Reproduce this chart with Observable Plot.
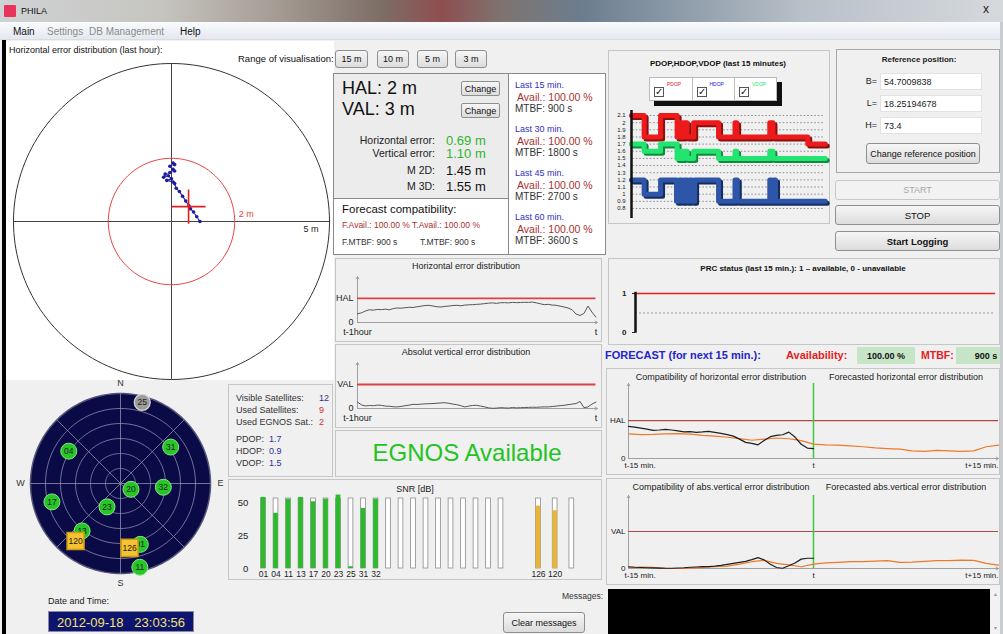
<!DOCTYPE html>
<html>
<head>
<meta charset="utf-8">
<script src="https://cdn.jsdelivr.net/npm/d3@7"></script>
<script src="https://cdn.jsdelivr.net/npm/@observablehq/plot@0.6"></script>
<style>
html,body{margin:0;padding:0;}
body{background:#f0f0f0;font-family:"Liberation Sans",Arial,sans-serif;color:#222;}
#app{position:relative;width:1003px;height:634px;overflow:hidden;background:#f0f0f0;}
.a{position:absolute;white-space:nowrap;line-height:1;}
.box{position:absolute;box-sizing:border-box;}
.btn{position:absolute;box-sizing:border-box;border:1px solid #8e8f8f;border-radius:3px;background:linear-gradient(#f6f6f6,#dcdcdc);display:flex;align-items:center;justify-content:center;font-size:9px;color:#111;white-space:nowrap;}
</style>
</head>
<body>
<div id="app"></div>
<script>
// ================= DATA =================
// Horizontal error distribution (last hour) – polar view, metres
const polarRange = 5;   // outer circle (range of visualisation)
const halRadius = 2;    // HAL circle
const traceEast  = [0.05, 0.10, -0.05, 0.05, 0.10, -0.05, -0.20, -0.25, -0.10, 0.00, -0.15, 0.05, 0.10, 0.15, 0.25, 0.35, 0.45, 0.55, 0.60, 0.70, 0.80, 0.90];
const traceNorth = [1.85, 1.80, 1.75, 1.65, 1.60, 1.55, 1.50, 1.40, 1.45, 1.35, 1.30, 1.25, 1.20, 1.05, 0.95, 0.80, 0.65, 0.50, 0.40, 0.30, 0.15, 0.00];
const currentPos = {east: 0.54, north: 0.47};

// Protection levels
const HAL = 2, VAL = 3;

// Error distributions, last hour (one value per minute, t-60 … t)
const heLastHour = [0.72,0.80,0.95,1.05,1.02,1.08,1.06,1.10,1.05,1.15,1.20,1.18,1.22,1.26,1.24,1.30,1.35,1.40,1.42,1.36,1.30,1.28,1.33,1.36,1.40,1.42,1.38,1.44,1.46,1.47,1.50,1.52,1.56,1.60,1.62,1.58,1.63,1.64,1.62,1.66,1.64,1.65,1.67,1.66,1.69,1.62,1.55,1.47,1.50,1.44,1.42,1.35,1.28,1.20,1.05,0.70,0.58,0.75,1.36,0.86,0.44];
const veLastHour = [0.80,0.45,0.32,0.38,0.35,0.42,0.40,0.30,0.28,0.22,0.20,0.26,0.35,0.42,0.52,0.50,0.55,0.58,0.60,0.62,0.66,0.70,0.72,0.65,0.55,0.48,0.35,0.20,0.30,0.38,0.40,0.30,0.20,0.08,0.02,0.05,0.10,0.08,0.05,0.12,0.08,0.10,0.12,0.14,0.16,0.15,0.18,0.20,0.20,0.25,0.30,0.36,0.40,0.48,0.55,0.62,0.88,0.10,0.20,0.55,0.80];

// Satellites (GPS)
const gpsPrn  = ["01","04","11","13","17","20","23","25","31","32"];
const gpsSnr  = [53.8, 41.7, 52.5, 53.8, 50.5, 52.5, 55.6, 1.3, 45.5, 52.5];
const gpsUsed = [1, 1, 1, 1, 1, 1, 1, 0, 1, 1];
const gpsAz   = [162, 302, 167, 219, 255, 119, 210, 15, 54, 95];
const gpsEl   = [26, 29, 4, 29, 19, 78, 63, 6, 28, 47];
// Satellites (EGNOS)
const egnosPrn = ["126","120"];
const egnosSnr = [47.2, 43.7];
const egnosAz  = [172, 218];
const egnosEl  = [25, 17];
const emptyGpsChannels = 10, emptyEgnosChannels = 1;
const snrChannelMax = 53;
const snrTicks = [0, 25, 50];

// Sky plot grid
const skyRingsEl = [15, 30, 45, 60, 75];
const skySpokesAz = [0, 45, 90, 135, 180, 225, 270, 315];
const compass = ["N", "E", "S", "W"];
const compassAz = [0, 90, 180, 270];

// PDOP / HDOP / VDOP (last 15 minutes) – step series
const dopTicks = [0.8,0.9,1,1.1,1.2,1.3,1.4,1.5,1.6,1.7,1.8,1.9,2,2.1];
const pdopTime  = [0,0.99,2.28,3.58,3.8,3.97,4.1,4.36,4.88,6.83,8.12,8.25,10.85,11.1,13.83,15.2];
const pdopValue = [2.1,1.8,2.1,1.8,2.0,1.8,2.0,1.8,2.0,1.8,2.0,1.8,2.0,1.8,1.7,1.7];
const vdopTime  = [0,0.99,2.28,3.58,3.8,3.97,4.1,4.36,4.88,6.83,8.12,8.25,10.85,11.1,15.2];
const vdopValue = [1.7,1.6,1.7,1.5,1.6,1.5,1.6,1.5,1.6,1.5,1.6,1.5,1.6,1.5,1.5];
const hdopTime  = [0,0.99,2.28,3.53,3.75,3.95,4.15,4.35,4.55,4.75,4.95,5.14,6.83,8.12,8.3,10.85,11.0,11.15,11.3,11.45,15.2];
const hdopValue = [1.2,1.0,1.2,0.9,1.2,0.9,1.2,0.9,1.2,0.9,1.2,1.2,0.9,1.2,0.9,1.2,0.9,1.2,0.9,0.9,0.9];

// PRC status (last 15 minutes)
const prcStatus = [1,1,1,1,1,1,1,1,1,1,1,1,1,1,1,1];

// Compatibility / forecast (t-15 … t every 0.5 min; forecast t-15 … t+15 every 1 min)
const chActual   = [1.69,1.65,1.60,1.55,1.48,1.50,1.53,1.50,1.45,1.40,1.42,1.38,1.40,1.43,1.38,1.32,1.26,1.18,1.02,0.85,0.80,0.72,0.95,1.15,1.22,1.25,1.39,1.13,0.75,0.55,0.52];
const chForecast = [1.30,1.26,1.27,1.30,1.31,1.28,1.22,1.18,1.12,1.05,0.96,1.02,1.08,1.04,0.94,0.76,0.72,0.70,0.66,0.62,0.56,0.52,0.49,0.40,0.38,0.43,0.40,0.38,0.40,0.62,0.70];
const cvActual   = [0.14,0.10,0.08,0.06,0.05,0.03,0.02,0.02,0.04,0.06,0.10,0.12,0.15,0.16,0.19,0.25,0.33,0.42,0.50,0.58,0.72,0.88,0.70,0.35,0.08,0.02,0.22,0.45,0.76,0.83,0.83];
const cvForecast = [0.08,0.12,0.10,0.02,0.00,0.03,0.08,0.14,0.20,0.35,0.55,0.66,0.42,0.30,0.14,0.36,0.45,0.50,0.56,0.56,0.60,0.64,0.50,0.52,0.58,0.64,0.64,0.68,0.66,0.42,0.28];

// ================= HELPERS =================
const app = document.getElementById("app");
function box(x, y, w, h, css) { const d = document.createElement("div"); d.className = "box"; d.style.cssText = `left:${x}px;top:${y}px;width:${w}px;height:${h}px;` + (css || ""); app.appendChild(d); return d; }
function txt(x, y, s, css, anchor) { const d = document.createElement("div"); d.className = "a"; d.textContent = s; const tx = anchor === "middle" ? "-50%" : anchor === "end" ? "-100%" : "0"; d.style.cssText = `left:${x}px;top:${y}px;transform:translate(${tx},-50%);` + (css || ""); app.appendChild(d); return d; }
function btn(x, y, w, h, s, css) { const d = document.createElement("div"); d.className = "btn"; d.textContent = s; d.style.cssText = `left:${x}px;top:${y}px;width:${w}px;height:${h}px;` + (css || ""); app.appendChild(d); return d; }
function mount(svg, x, y) { svg.style.position = "absolute"; svg.style.left = x + "px"; svg.style.top = y + "px"; svg.style.maxWidth = "none"; app.appendChild(svg); }
const baseStyle = {background: "transparent", overflow: "visible", fontFamily: "Liberation Sans, Arial, sans-serif"};
const deg = Math.PI / 180;
const ringPts = r => d3.range(0, 361, 2).map(a => ({x: r * Math.cos(a * deg), y: r * Math.sin(a * deg)}));

// ================= WINDOW CHROME =================
box(0, 0, 1003, 22, "background:linear-gradient(90deg,#cfd2d4 0%,#c6c5c0 16%,#a39a92 28%,#7d6e66 38%,#8e4e50 44%,#7e7470 50%,#6c7d8e 58%,#8796a4 66%,#b8c0c8 80%,#d6d9dc 100%)");
box(4, 5, 12, 12, "background:#e8335c;border-radius:1px");
txt(21, 11, "PHILA", "font-size:9px;color:#111");
txt(986, 9, "x", "font-size:12px;color:#222", "middle");
box(0, 22, 1003, 18, "background:linear-gradient(#fafbfd,#e4e8ef);border-bottom:1px solid #d8dce4");
txt(13, 32, "Main", "font-size:10px;color:#111");
txt(47, 32, "Settings", "font-size:10px;color:#8a8a8a");
txt(89, 32, "DB Management", "font-size:10px;color:#8a8a8a");
txt(180, 32, "Help", "font-size:10px;color:#111");
box(2, 40, 4, 594, "background:#000");
box(1000, 22, 3, 612, "background:#c9cdd2");

// ================= POLAR (horizontal error) =================
box(6, 41, 328, 339, "background:#fff");
txt(9, 50, "Horizontal error distribution (last hour):", "font-size:9px;color:#111");
const trace = traceEast.map((e, i) => ({e, n: traceNorth[i]}));
const polar = Plot.plot({
  width: 330, height: 330, margin: 7,
  x: {domain: [-polarRange, polarRange], axis: null},
  y: {domain: [-polarRange, polarRange], axis: null},
  style: baseStyle,
  marks: [
    Plot.line(ringPts(polarRange), {x: "x", y: "y", stroke: "#333", strokeWidth: 1}),
    Plot.ruleY([0], {x1: -polarRange, x2: polarRange, stroke: "#444"}),
    Plot.ruleX([0], {y1: -polarRange, y2: polarRange, stroke: "#444"}),
    Plot.line(ringPts(halRadius), {x: "x", y: "y", stroke: "#e84040", strokeWidth: 1}),
    Plot.text([halRadius], {x: d => d, y: () => 0, text: d => `${d} m`, dx: 4, dy: -7, textAnchor: "start", fill: "#e84040", fontSize: 9}),
    Plot.text([polarRange], {x: d => d, y: () => 0, text: d => `${d} m`, dx: -11, dy: 8, textAnchor: "end", fill: "#222", fontSize: 9}),
    Plot.line(trace, {x: "e", y: "n", stroke: "#2a2ab4", strokeWidth: 1.2, strokeDasharray: "4,1.5"}),
    Plot.dot(trace, {x: "e", y: "n", r: 1.8, fill: "#1c1c9c"}),
    Plot.dot([currentPos], {x: "east", y: "north", symbol: "plus", r: 11, stroke: "#e02020", strokeWidth: 1.6})
  ]
});
mount(polar, 6, 56);

// ================= RANGE BUTTONS =================
txt(238, 59, "Range of visualisation:", "font-size:9.5px;color:#111");
btn(335, 50, 33, 18, "15 m"); btn(377, 50, 32, 18, "10 m"); btn(417, 50, 31, 18, "5 m"); btn(455, 50, 32, 18, "3 m");

// ================= INFO BOX =================
box(333, 73, 176, 126, "background:#ececec;border:1px solid #8a8a8a");
box(333, 198, 176, 57, "background:#fff;border:1px solid #8a8a8a");
box(508, 73, 98, 182, "background:#fff;border:1px solid #8a8a8a");
txt(342, 88, "HAL:  " + HAL + " m", "font-size:18px;color:#111");
txt(342, 109, "VAL:  " + VAL + " m", "font-size:18px;color:#111");
btn(461, 81, 39, 15, "Change", "border-radius:2px"); btn(461, 103, 39, 15, "Change", "border-radius:2px");
txt(435, 140, "Horizontal error:", "font-size:10.5px;color:#222", "end");
txt(446, 140, "0.69 m", "font-size:13px;color:#2fb52f");
txt(435, 153, "Vertical error:", "font-size:10.5px;color:#222", "end");
txt(446, 153, "1.10 m", "font-size:13px;color:#2fb52f");
txt(435, 170, "M 2D:", "font-size:10.5px;color:#222", "end");
txt(446, 170, "1.45 m", "font-size:13px;color:#111");
txt(435, 186, "M 3D:", "font-size:10.5px;color:#222", "end");
txt(446, 186, "1.55 m", "font-size:13px;color:#111");
txt(342, 210, "Forecast compatibility:", "font-size:11.5px;color:#111");
txt(342, 225, "F.Avail.: 100.00 % T.Avail.: 100.00 %", "font-size:8.5px;color:#a83030");
txt(342, 242, "F.MTBF: 900 s", "font-size:8.5px;color:#333");
txt(420, 242, "T.MTBF: 900 s", "font-size:8.5px;color:#333");
[["Last 15 min.", "900"], ["Last 30 min.", "1800"], ["Last 45 min.", "2700"], ["Last 60 min.", "3600"]].forEach(([l, m], i) => {
  const y0 = 85 + i * 44;
  txt(515, y0, l, "font-size:9px;color:#3030c0");
  txt(517, y0 + 12, "Avail.: 100.00 %", "font-size:10.5px;color:#a83030");
  txt(515, y0 + 24, "MTBF: " + m + " s", "font-size:10px;color:#333");
});

// ================= HORIZONTAL / VERTICAL (last hour) =================
function lastHourPlot(values, limit, label, yMax) {
  const rows = values.map((v, i) => ({t: i - 60, v}));
  return Plot.plot({
    width: 265, height: 72, marginLeft: 22, marginRight: 3, marginTop: 8, marginBottom: 18,
    x: {domain: [-60, 0.4], label: null}, y: {domain: [0, yMax], label: null},
    style: baseStyle,
    marks: [
      Plot.arrow([0], {x1: () => -60, y1: () => 0, x2: () => -60, y2: () => yMax, stroke: "#a0a0a0", strokeWidth: 1, headLength: 4}),
      Plot.arrow([0], {x1: () => -60, y1: () => 0, x2: () => 0.4, y2: () => 0, stroke: "#a0a0a0", strokeWidth: 1, headLength: 4}),
      Plot.ruleY([limit], {x1: -60, x2: 0, stroke: "#e04040", strokeWidth: 1.8}),
      Plot.line(rows, {x: "t", y: "v", stroke: "#555", strokeWidth: 1}),
      Plot.axisY([0, limit], {label: null, tickSize: 0, tickPadding: 4, fontSize: 9, tickFormat: d => d === 0 ? "0" : label}),
      Plot.axisX([-60, 0], {label: null, tickSize: 0, tickPadding: 6, fontSize: 9, tickFormat: d => d === 0 ? "t" : "t-1hour"})
    ]
  });
}
box(335, 258, 267, 84, "border:1px solid #c6c6c6");
txt(466, 266, "Horizontal error distribution", "font-size:9px;color:#222", "middle");
mount(lastHourPlot(heLastHour, HAL, "HAL", 3.8), 335, 268);
box(335, 344, 267, 84, "border:1px solid #c6c6c6");
txt(466, 352, "Absolut vertical error distribution", "font-size:9px;color:#222", "middle");
mount(lastHourPlot(veLastHour, VAL, "VAL", 5.75), 335, 354);

// ================= EGNOS AVAILABLE =================
box(335, 430, 267, 47, "border:1px solid #c6c6c6");
txt(467, 453, "EGNOS Available", "font-size:24px;color:#22c322", "middle");

// ================= SAT INFO =================
box(228, 384, 105, 93, "border:1px solid #c6c6c6");
const infoCss = "font-size:9px;color:#333";
txt(236, 398, "Visible Satellites:", infoCss);
txt(319, 398, String(gpsPrn.length + egnosPrn.length), "font-size:9px;color:#303090");
txt(236, 410, "Used Satellites:", infoCss);
txt(319, 410, String(gpsUsed.filter(d => d).length), "font-size:9px;color:#d03030");
txt(236, 422, "Used EGNOS Sat.:", infoCss);
txt(319, 422, String(egnosPrn.length), "font-size:9px;color:#d03030");
txt(236, 439, "PDOP:", infoCss); txt(269, 439, "1.7", "font-size:9px;color:#303090");
txt(236, 451, "HDOP:", infoCss); txt(269, 451, "0.9", "font-size:9px;color:#303090");
txt(236, 463, "VDOP:", infoCss); txt(269, 463, "1.5", "font-size:9px;color:#303090");

// ================= SKY PLOT =================
const skyXY = (az, r) => ({x: r * Math.sin(az * deg), y: r * Math.cos(az * deg)});
const gpsSky = gpsPrn.map((prn, i) => ({prn, used: gpsUsed[i], ...skyXY(gpsAz[i], 90 - gpsEl[i])}));
const egnosSky = egnosPrn.map((prn, i) => ({prn, ...skyXY(egnosAz[i], 90 - egnosEl[i])}));
const sky = Plot.plot({
  width: 220, height: 220, margin: 20,
  x: {domain: [-90, 90], axis: null}, y: {domain: [-90, 90], axis: null},
  style: baseStyle,
  marks: [
    Plot.line(ringPts(90), {x: "x", y: "y", fill: "#0a0a46", stroke: "#55557a"}),
    ...skyRingsEl.map(el => Plot.line(ringPts(90 - el), {x: "x", y: "y", stroke: "#8e8eb0", strokeWidth: 0.8})),
    Plot.link(skySpokesAz, {x1: () => 0, y1: () => 0, x2: a => 90 * Math.sin(a * deg), y2: a => 90 * Math.cos(a * deg), stroke: "#8e8eb0", strokeWidth: 0.8}),
    Plot.text(compass, {x: (d, i) => 100 * Math.sin(compassAz[i] * deg), y: (d, i) => 100 * Math.cos(compassAz[i] * deg), text: d => d, fontSize: 9, fill: "#333"}),
    Plot.dot(gpsSky.filter(d => !d.used), {x: "x", y: "y", r: 8, fill: "#9c9c9c", stroke: "#d8d8d8", strokeWidth: 1.2}),
    Plot.dot(gpsSky.filter(d => d.used), {x: "x", y: "y", r: 8, fill: "#27c627", stroke: "#8ee08e", strokeWidth: 1}),
    Plot.text(gpsSky, {x: "x", y: "y", text: "prn", fontSize: 8.5, fill: "#1a1a1a"}),
    Plot.dot(egnosSky, {x: "x", y: "y", symbol: "square", r: 9.6, fill: "#f4c232", stroke: "#c99a12"}),
    Plot.text(egnosSky, {x: "x", y: "y", text: "prn", fontSize: 8.5, fill: "#1a1a1a"})
  ]
});
mount(sky, 10, 373);

// ================= DATE / TIME =================
txt(48, 601, "Date and Time:", "font-size:9px;color:#222");
box(48, 611, 146, 21, "background:#0c1470;border:1px solid #8a8a9a");
txt(121, 622, "2012-09-18   23:03:56", "font-size:13px;color:#f4e26a;white-space:pre", "middle");

// ================= SNR =================
box(228, 479, 374, 101, "border:1px solid #c6c6c6");
txt(415, 489, "SNR [dB]", "font-size:9px;color:#222", "middle");
// channel slots: GPS receiver channels, then EGNOS channels after a gap
const egnosSlotStart = 22, egnosSlotStep = 4 / 3, barHalf = 0.19;
const gpsChannels = [...gpsPrn, ...d3.range(emptyGpsChannels).map(() => "")].map((id, i) => ({id, pos: i}));
const egnosChannels = [...egnosPrn, ...d3.range(emptyEgnosChannels).map(() => "")].map((id, j) => ({id, pos: egnosSlotStart + j * egnosSlotStep}));
const allChannels = [...gpsChannels, ...egnosChannels];
const snrOf = new Map([...gpsPrn.map((p, i) => [p, gpsSnr[i]]), ...egnosPrn.map((p, i) => [p, egnosSnr[i]])]);
const gpsBars = gpsChannels.filter(d => d.id).map(d => ({...d, snr: snrOf.get(d.id)}));
const egnosBars = egnosChannels.filter(d => d.id).map(d => ({...d, snr: snrOf.get(d.id)}));
const labelAt = new Map(allChannels.filter(d => d.id).map(d => [d.pos, d.id]));
const snr = Plot.plot({
  width: 370, height: 100, marginLeft: 26.75, marginRight: 22, marginTop: 9.4, marginBottom: 14,
  x: {domain: [-0.5, 25.2], label: null},
  y: {domain: [0, 58], label: null},
  style: baseStyle,
  marks: [
    Plot.rect(allChannels, {x1: d => d.pos - barHalf, x2: d => d.pos + barHalf, y1: () => 0, y2: () => snrChannelMax, fill: "#fff", stroke: "#8c8c8c", strokeWidth: 0.8}),
    Plot.rect(gpsBars, {x1: d => d.pos - barHalf, x2: d => d.pos + barHalf, y1: () => 0, y2: "snr", fill: "#2eb82e"}),
    Plot.rect(egnosBars, {x1: d => d.pos - barHalf, x2: d => d.pos + barHalf, y1: () => 0, y2: "snr", fill: "#e8b43a"}),
    Plot.axisY(snrTicks, {label: null, tickSize: 0, tickPadding: 9, fontSize: 9.5}),
    Plot.axisX([...labelAt.keys()], {label: null, tickSize: 0, tickPadding: 2, fontSize: 8.5, tickFormat: d => labelAt.get(d)})
  ]
});
mount(snr, 230, 482);

// ================= DOP =================
box(608, 50, 222, 174, "border:1px solid #c6c6c6");
txt(718, 64, "PDOP,HDOP,VDOP (last 15 minutes)", "font-size:8px;font-weight:bold;color:#111", "middle");
box(649, 77, 128, 24, "background:#fff;border:1px solid #bbb;box-shadow:5px 5px 0 #111");
[["PDOP", "#e81818"], ["HDOP", "#2020d0"], ["VDOP", "#28e070"]].forEach(([n, c], i) => {
  const x0 = 649 + i * 42.5;
  if (i > 0) box(x0, 77, 1, 24, "background:#bbb");
  box(x0 + 5, 87, 10, 10, "background:#fff;border:1px solid #555");
  txt(x0 + 10, 92, "\u2713", "font-size:10px;color:#111", "middle");
  txt(x0 + 18, 84, n, "font-size:5px;color:" + c);
});
const dopLines = [
  {t: pdopTime, v: pdopValue, c: "#ec1a1a", s: "#8a1010"},
  {t: vdopTime, v: vdopValue, c: "#22e46e", s: "#108a40"},
  {t: hdopTime, v: hdopValue, c: "#2d55a8", s: "#142c60"}
].flatMap(({t, v, c, s}) => {
  const rows = t.map((tt, i) => ({t: tt, v: v[i]}));
  return [
    Plot.line(rows, {x: "t", y: "v", curve: "step-after", stroke: s, strokeWidth: 5, dx: 2, dy: 2}),
    Plot.line(rows, {x: "t", y: "v", curve: "step-after", stroke: c, strokeWidth: 5})
  ];
});
const dop = Plot.plot({
  width: 222, height: 118, marginLeft: 23, marginRight: 4, marginTop: 6, marginBottom: 4,
  x: {domain: [0, 15.3], axis: null, label: null}, y: {domain: [0.66, 2.17], label: null},
  style: baseStyle,
  marks: [
    Plot.ruleY(dopTicks, {x1: 0.1, x2: 15.2, stroke: "#8a8a8a", strokeDasharray: "1.5,2"}),
    ...dopLines,
    Plot.ruleX([0], {stroke: "#111", strokeWidth: 2.5}),
    Plot.axisY(dopTicks, {label: null, tickSize: 0, tickPadding: 6, fontSize: 6, tickFormat: d => String(d)})
  ]
});
mount(dop, 608, 104);

// ================= REFERENCE POSITION =================
box(836, 49, 164, 124, "border:1px solid #a8a8a8");
txt(919, 60, "Reference position:", "font-size:8px;font-weight:bold;color:#222", "middle");
[["B=", "54.7009838", 73], ["L=", "18.25194678", 95], ["H=", "73.4", 117]].forEach(([l, v, y]) => {
  txt(877, y + 8, l, "font-size:9px;color:#222", "end");
  box(880, y, 102, 17, "background:#fff;border:1px solid #e2e2e2");
  txt(884, y + 8.5, v, "font-size:9px;color:#222");
});
btn(866, 143, 114, 21, "Change reference position", "font-size:9px");
btn(835, 180, 165, 20, "START", "color:#a8a8a8;background:#f2f2f2;border-color:#c8c8c8");
btn(835, 205, 165, 20, "STOP", "font-size:9.5px");
btn(835, 231, 165, 20, "Start Logging", "font-size:9.5px;font-weight:bold");

// ================= PRC STATUS =================
box(608, 258, 392, 87, "border:1px solid #c6c6c6");
txt(803, 269, "PRC status (last 15 min.): 1 \u2013 available, 0 - unavailable", "font-size:8px;font-weight:bold;color:#111", "middle");
const prcRows = prcStatus.map((s, i) => ({t: i, s}));
const prc = Plot.plot({
  width: 392, height: 52, marginLeft: 27, marginRight: 6, marginTop: 8, marginBottom: 5,
  x: {domain: [0, 15], axis: null, label: null}, y: {domain: [0, 1], label: null},
  style: baseStyle,
  marks: [
    Plot.ruleY([0.5], {stroke: "#999", strokeDasharray: "2,2"}),
    Plot.line(prcRows, {x: "t", y: "s", stroke: "#e82020", strokeWidth: 1.5}),
    Plot.ruleX([0], {y1: -0.02, y2: 1.03, stroke: "#111", strokeWidth: 2.5}),
    Plot.axisY([0, 1], {label: null, tickSize: 3, tickPadding: 6, fontSize: 8, fontWeight: "bold"})
  ]
});
mount(prc, 608, 285);

// ================= FORECAST ROW =================
txt(605, 355, "FORECAST (for next 15 min.):", "font-size:11px;font-weight:bold;color:#2424c8");
txt(786, 355, "Availability:", "font-size:11px;font-weight:bold;color:#e42020");
box(857, 347, 58, 17, "background:#c6e4c6");
txt(886, 355.5, "100.00 %", "font-size:9px;font-weight:bold;color:#111", "middle");
txt(921, 355, "MTBF:", "font-size:10.5px;font-weight:bold;color:#e42020");
box(956, 347, 44, 17, "background:#c6e4c6");
txt(986, 355.5, "900 s", "font-size:9px;font-weight:bold;color:#111", "middle");

// ================= COMPATIBILITY / FORECAST =================
function compatPlot(actual, forecast, limit, label, yMax, height) {
  const a = actual.map((v, i) => ({t: -15 + i * 0.5, v}));
  const f = forecast.map((v, i) => ({t: -15 + i, v}));
  const ax = {label: null, tickSize: 0, tickPadding: 4, fontSize: 8};
  return Plot.plot({
    width: 394, height, marginLeft: 22, marginRight: 2, marginTop: 3, marginBottom: 17,
    x: {domain: [-15, 15], label: null}, y: {domain: [0, yMax], label: null},
    style: baseStyle,
    marks: [
      Plot.arrow([0], {x1: () => -15, y1: () => 0, x2: () => -15, y2: () => yMax, stroke: "#a0a0a0", strokeWidth: 1, headLength: 4}),
      Plot.arrow([0], {x1: () => -15, y1: () => 0, x2: () => 15, y2: () => 0, stroke: "#a0a0a0", strokeWidth: 1, headLength: 4}),
      Plot.ruleY([limit], {x1: -15, x2: 15, stroke: "#b04848", strokeWidth: 1.2}),
      Plot.ruleX([0], {stroke: "#3cc83c", strokeWidth: 1.5}),
      Plot.line(f, {x: "t", y: "v", stroke: "#f07828", strokeWidth: 1.2}),
      Plot.line(a, {x: "t", y: "v", stroke: "#1e1e1e", strokeWidth: 1.2}),
      Plot.axisY([0, limit], {...ax, tickPadding: 3, tickFormat: d => d === 0 ? "0" : label}),
      Plot.axisX([-15], {...ax, textAnchor: "start", dx: -4, tickFormat: () => "t-15 min."}),
      Plot.axisX([0], {...ax, tickFormat: () => "t"}),
      Plot.axisX([15], {...ax, textAnchor: "end", tickFormat: () => "t+15 min."})
    ]
  });
}
box(606, 368, 394, 107, "border:1px solid #c6c6c6");
txt(721, 377, "Compatibility of horizontal error distribution", "font-size:9px;color:#222", "middle");
txt(906, 377, "Forecasted horizontal error distribution", "font-size:9px;color:#222", "middle");
mount(compatPlot(chActual, chForecast, HAL, "HAL", 3.95, 95), 606, 380);
box(606, 478, 394, 107, "border:1px solid #c6c6c6");
txt(721, 487, "Compatibility of abs.vertical error distribution", "font-size:9px;color:#222", "middle");
txt(906, 487, "Forecasted abs.vertical error distribution", "font-size:9px;color:#222", "middle");
mount(compatPlot(cvActual, cvForecast, VAL, "VAL", 5.92, 93), 606, 492);

// ================= MESSAGES =================
txt(603, 596, "Messages:", "font-size:8.5px;color:#333", "end");
box(608, 589, 382, 45, "background:#000");
box(990, 589, 10, 45, "background:#f2f2f2");
txt(995, 594, "\u25B4", "font-size:6px;color:#999", "middle");
txt(995, 628, "\u25BE", "font-size:6px;color:#999", "middle");
btn(503, 612, 82, 21, "Clear messages", "font-size:9px");
</script>
</body>
</html>
